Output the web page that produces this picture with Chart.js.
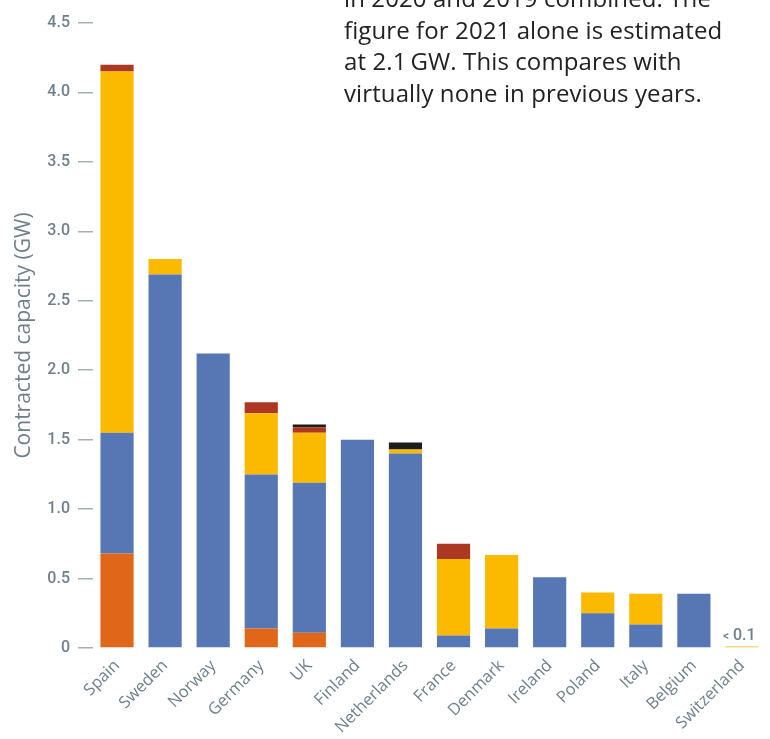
<!DOCTYPE html>
<html>
<head>
<meta charset="utf-8">
<script src="https://cdn.jsdelivr.net/npm/chart.js@4"></script>
<style>
    html, body {
        margin: 0;
        padding: 0;
        background: #ffffff;
    }

    #wrap {
        position: relative;
        width: 770px;
        height: 739px;
        overflow: hidden;
    }

    #note {
        position: absolute;
        left: 344px;
        top: -18px;
        font-family: "Open Sans", "Noto Sans", sans-serif;
        font-size: 24px;
        letter-spacing: 0.1px;
        line-height: 31.5px;
        color: #222222;
        white-space: nowrap;
    }
</style>
</head>
<body>
<div id="wrap">
    <canvas id="capacityChart" width="770" height="739"></canvas>
    <div id="note">in 2020 and 2019 combined. The<br>figure for 2021 alone is estimated<br>at 2.1&#8201;GW. This compares with<br>virtually none in previous years.</div>
</div>
<script>
const countries = [
    "Spain", "Sweden", "Norway", "Germany", "UK", "Finland", "Netherlands",
    "France", "Denmark", "Ireland", "Poland", "Italy", "Belgium", "Switzerland"
];

const orangeValues = [0.68, 0, 0, 0.14, 0.11, 0, 0, 0, 0, 0, 0, 0, 0, 0];
const blueValues = [0.87, 2.69, 2.12, 1.11, 1.08, 1.50, 1.40, 0.09, 0.14, 0.51, 0.25, 0.17, 0.39, 0];
const yellowValues = [2.60, 0.11, 0, 0.44, 0.36, 0, 0.03, 0.55, 0.53, 0, 0.15, 0.22, 0, 0.01];
const redValues = [0.05, 0, 0, 0.08, 0.04, 0, 0, 0.11, 0, 0, 0, 0, 0, 0];
const blackValues = [0, 0, 0, 0, 0.02, 0, 0.05, 0, 0, 0, 0, 0, 0, 0];

const yTicks = [0, 0.5, 1.0, 1.5, 2.0, 2.5, 3.0, 3.5, 4.0, 4.5];
const smallNote = { country: "Switzerland", text: "< 0.1" };

const greyText = "#6f808c";

const chartCanvas = document.getElementById("capacityChart");

function makeSet(label, data, color) {
    return {
        label: label,
        data: data,
        backgroundColor: color,
        borderWidth: 0,
        barPercentage: 0.69,
        categoryPercentage: 1.0
    };
}

// small "< 0.1" label above the near-zero bar
const smallLabelPlugin = {
    id: "smallLabel",
    afterDatasetsDraw(chart) {
        const { ctx, scales } = chart;
        const idx = countries.indexOf(smallNote.country);
        const x = scales.x.getPixelForValue(idx);
        const y = scales.y.getPixelForValue(0);
        ctx.save();
        ctx.fillStyle = greyText;
        ctx.textBaseline = "alphabetic";
        ctx.textAlign = "left";
        ctx.font = "500 12px Roboto, sans-serif";
        ctx.fillText("<", x - 19, y - 8);
        ctx.font = "500 16px Roboto, sans-serif";
        ctx.fillText("0.1", x - 9, y - 8);
        ctx.restore();
    }
};

const capacityChart = new Chart(chartCanvas, {
    type: "bar",

    data: {
        labels: countries,
        datasets: [
            makeSet("Orange", orangeValues, "#e0661a"),
            makeSet("Blue", blueValues, "#5676b4"),
            makeSet("Yellow", yellowValues, "#fbb900"),
            makeSet("Red", redValues, "#ad3822"),
            makeSet("Black", blackValues, "#1d1d1b")
        ]
    },

    options: {
        responsive: false,
        animation: false,

        layout: {
            padding: { top: 23, right: 4, left: 0, bottom: 0 }
        },

        plugins: {
            legend: { display: false },
            tooltip: { enabled: false }
        },

        scales: {
            x: {
                stacked: true,
                grid: { display: false },
                border: { display: false },
                ticks: {
                    color: greyText,
                    font: { family: "'Open Sans', 'Noto Sans', sans-serif", size: 16.5 },
                    minRotation: 45,
                    maxRotation: 45,
                    padding: 0
                },
                afterFit(scale) {
                    scale.height = 91;
                }
            },

            y: {
                stacked: true,
                min: 0,
                max: 4.5,
                afterBuildTicks(scale) {
                    scale.ticks = yTicks.map(v => ({ value: v }));
                },
                grid: {
                    drawOnChartArea: false,
                    color: "#a4b0b8",
                    lineWidth: 1.5,
                    tickLength: 15
                },
                border: { display: false },
                ticks: {
                    color: greyText,
                    font: { family: "Roboto, sans-serif", size: 16, weight: "500" },
                    padding: 8,
                    callback(value) {
                        return value === 0 ? "0" : value.toFixed(1);
                    }
                },
                title: {
                    display: true,
                    text: "Contracted capacity (GW)",
                    color: "#6e7f8a",
                    font: { family: "'Open Sans', 'Noto Sans', sans-serif", size: 21 },
                    padding: { top: 11, bottom: 0 }
                },
                afterFit(scale) {
                    scale.width = 93;
                }
            }
        }
    },

    plugins: [smallLabelPlugin]
});
</script>
</body>
</html>
